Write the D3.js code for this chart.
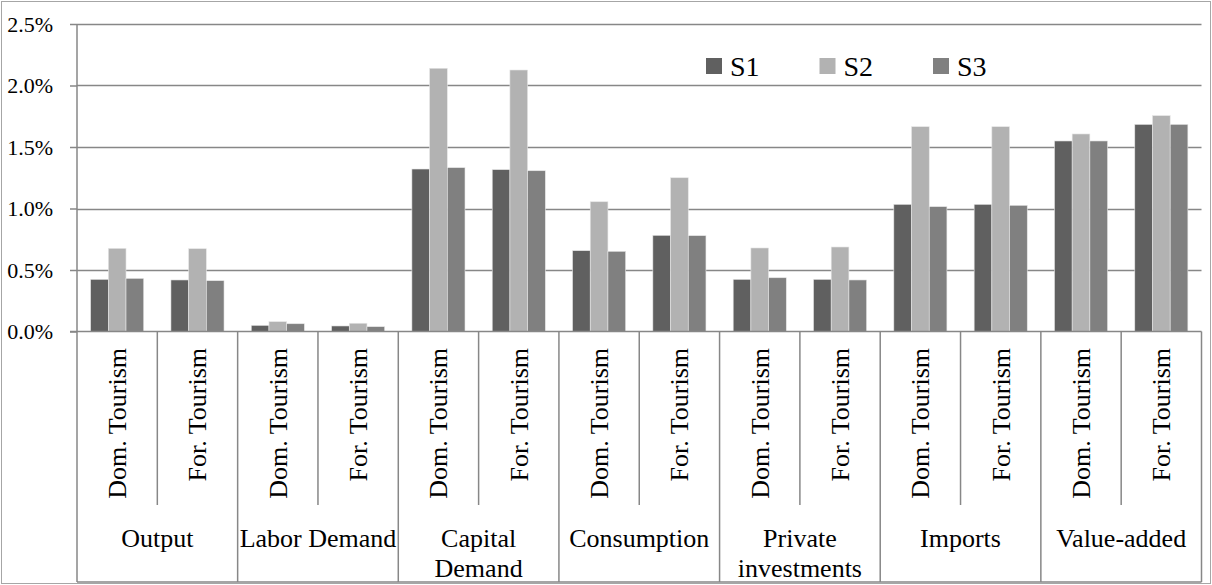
<!DOCTYPE html>
<html><head><meta charset="utf-8">
<script src="https://cdn.jsdelivr.net/npm/d3@7"></script>
<style>
html,body{margin:0;padding:0;background:#fff;}
svg{display:block;}
text{font-family:"Liberation Serif","Times New Roman",serif;fill:#000;}
</style></head>
<body><svg id="c" width="1212" height="585"></svg>
<script>
const groups = [["Output"],["Labor Demand"],["Capital","Demand"],["Consumption"],["Private","investments"],["Imports"],["Value-added"]];
const subs = ["Dom. Tourism","For. Tourism"];
const seriesNames = ["S1","S2","S3"];
const S1 = [0.424,0.419,0.050,0.045,1.321,1.316,0.657,0.782,0.424,0.424,1.034,1.034,1.549,1.684];
const S2 = [0.676,0.673,0.080,0.067,2.140,2.126,1.055,1.250,0.679,0.687,1.665,1.665,1.606,1.755];
const S3 = [0.432,0.413,0.063,0.039,1.332,1.307,0.652,0.779,0.437,0.419,1.015,1.026,1.549,1.684];
const yTicks = [0,0.5,1.0,1.5,2.0,2.5];
const colors = ["#606060","#b2b2b2","#808080"];

const series = [S1,S2,S3];
const cats = [];
groups.forEach((g,gi)=>subs.forEach((s,si)=>cats.push({id:gi+"_"+si,g:gi,s:si,label:s})));

const svg = d3.select("#c");
const L=77, R=1201.5, T=24, B=331.5, BOT=582, MID=505;
const gridCol="#878787";

svg.append("rect").attr("x",1.5).attr("y",1.5).attr("width",1209).attr("height",582)
  .attr("fill","#fff").attr("stroke","#a6a6a6").attr("stroke-width",1);

const x = d3.scaleBand().domain(cats.map(d=>d.id)).range([L,R]).paddingInner(0).paddingOuter(0);
const xb = d3.scaleBand().domain(seriesNames).range([0,x.bandwidth()]).paddingInner(0).paddingOuter(0.5);
const y = d3.scaleLinear().domain([0,2.5]).range([B,T]);

// gridlines
svg.append("g").selectAll("line").data(yTicks.filter(t=>t>0)).join("line")
  .attr("x1",L).attr("x2",R).attr("y1",d=>Math.round(y(d))+0.5).attr("y2",d=>Math.round(y(d))+0.5)
  .attr("stroke",gridCol).attr("stroke-width",1.5);

// y axis
const yAxis = svg.append("g").attr("transform",`translate(${L},0)`)
  .call(d3.axisLeft(y).tickValues(yTicks).tickSize(7).tickPadding(17).tickFormat(d=>d.toFixed(1)+"%"));
yAxis.select(".domain").remove();
yAxis.selectAll(".tick line").attr("stroke",gridCol).attr("stroke-width",1.5);
yAxis.selectAll(".tick text").attr("font-size",22).attr("font-family","Liberation Serif").attr("fill","#000");

// bars
const bw = 17.7;
series.forEach((vals,si)=>{
  svg.append("g").selectAll("rect").data(cats).join("rect")
    .attr("x",(d)=>x(d.id)+x.bandwidth()/2-1.5*bw+si*bw)
    .attr("width",bw)
    .attr("y",(d,i)=>y(vals[i]))
    .attr("height",(d,i)=>B-y(vals[i]))
    .attr("fill",colors[si]).attr("stroke","#e6e6e6").attr("stroke-width",0.6);
});

// axis lines
svg.append("line").attr("x1",L).attr("x2",L).attr("y1",T).attr("y2",BOT).attr("stroke",gridCol).attr("stroke-width",1.5);
svg.append("line").attr("x1",L-7).attr("x2",R).attr("y1",B).attr("y2",B).attr("stroke",gridCol).attr("stroke-width",1.5);
svg.append("line").attr("x1",L).attr("x2",R).attr("y1",BOT).attr("y2",BOT).attr("stroke",gridCol).attr("stroke-width",1.5);

// category dividers
cats.forEach((d,i)=>{
  const xr = x(d.id)+x.bandwidth();
  const full = d.s===1;
  svg.append("line").attr("x1",xr).attr("x2",xr).attr("y1",B).attr("y2",full?BOT:MID)
    .attr("stroke",gridCol).attr("stroke-width",1.5);
});

// sub labels
svg.append("g").selectAll("text").data(cats).join("text")
  .attr("transform",d=>`translate(${x(d.id)+x.bandwidth()/2+9},348) rotate(-90)`)
  .attr("text-anchor","end").attr("font-size",26).text(d=>d.label);

// group labels
groups.forEach((g,gi)=>{
  const x0 = x(gi+"_0"), x1 = x(gi+"_1")+x.bandwidth();
  const t = svg.append("text").attr("x",(x0+x1)/2).attr("y",547).attr("text-anchor","middle").attr("font-size",26);
  g.forEach((ln,li)=>t.append("tspan").attr("x",(x0+x1)/2).attr("dy",li?30:0).text(ln));
});

// legend
const leg = svg.append("g").attr("transform","translate(706,0)");
seriesNames.forEach((n,i)=>{
  const gx = i*113.5;
  leg.append("rect").attr("x",gx).attr("y",58).attr("width",16).attr("height",16).attr("fill",colors[i]);
  leg.append("text").attr("x",gx+24).attr("y",76).attr("font-size",28).text(n);
});
</script></body></html>
